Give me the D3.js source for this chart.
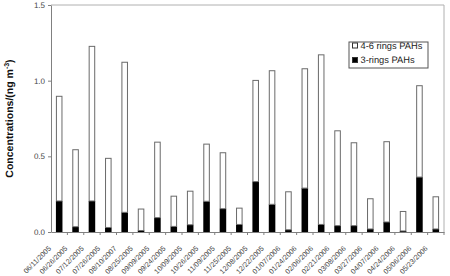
<!DOCTYPE html>
<html>
<head>
<meta charset="utf-8">
<script src="https://cdn.jsdelivr.net/npm/d3@7"></script>
<style>
  body { margin: 0; background: #fff; }
  svg { display: block; font-family: Arial, "Liberation Sans", sans-serif; }
  text { text-rendering: geometricPrecision; }
</style>
</head>
<body>
<svg id="chart" width="450" height="276"></svg>
<script>
// даты отбора проб
const dates = ["06/11/2005", "06/26/2005", "07/12/2005", "07/26/2005", "08/10/2007", "08/25/2005",
  "09/09/2005", "09/24/2005", "10/09/2005", "10/26/2005", "11/09/2005", "11/25/2005",
  "12/08/2005", "12/22/2005", "01/07/2006", "01/24/2006", "02/06/2006", "02/21/2006",
  "03/08/2006", "03/27/2006", "04/07/2006", "04/24/2006", "05/06/2006", "05/23/2006"];

// 3-ring PAHs (нижняя, чёрная часть)
const rings3 = [0.205, 0.035, 0.205, 0.03, 0.13, 0.01, 0.095, 0.037, 0.048, 0.203, 0.154, 0.05,
  0.333, 0.183, 0.015, 0.29, 0.05, 0.042, 0.042, 0.02, 0.066, 0.007, 0.363, 0.02];

// 4-6 ring PAHs (верхняя, белая часть)
const rings46 = [0.695, 0.512, 1.025, 0.46, 0.995, 0.145, 0.502, 0.203, 0.225, 0.381, 0.373, 0.111,
  0.672, 0.886, 0.254, 0.792, 1.124, 0.63, 0.551, 0.203, 0.534, 0.132, 0.607, 0.216];

const yTicks = [0, 0.5, 1.0, 1.5];

const area = { left: 51, right: 444, top: 5, bottom: 232 };

const svg = d3.select("#chart");

const data = dates.map((d, i) => ({ date: d, r3: rings3[i], r46: rings46[i] }));

const x = d3.scaleBand()
  .domain(dates)
  .range([area.left, area.right])
  .paddingInner(0.6)
  .paddingOuter(0.3);

const y = d3.scaleLinear()
  .domain([0, 1.5])
  .range([area.bottom, area.top]);

const step = x.step();

// рамка области построения (верх и право)
svg.append("path")
  .attr("d", `M${area.left},${area.top}H${area.right}V${area.bottom}`)
  .attr("fill", "none")
  .attr("stroke", "#b0b0b0")
  .attr("stroke-width", 1);

// столбцы: чёрная часть
svg.selectAll(".bar-r3")
  .data(data)
  .enter()
  .append("rect")
  .attr("class", "bar-r3")
  .attr("x", d => x(d.date))
  .attr("width", x.bandwidth())
  .attr("y", d => y(d.r3))
  .attr("height", d => y(0) - y(d.r3))
  .attr("fill", "#000");

// белая часть
svg.selectAll(".bar-r46")
  .data(data)
  .enter()
  .append("rect")
  .attr("class", "bar-r46")
  .attr("x", d => x(d.date) + 0.5)
  .attr("width", x.bandwidth() - 1)
  .attr("y", d => y(d.r3 + d.r46) + 0.5)
  .attr("height", d => y(d.r3) - y(d.r3 + d.r46) - 0.5)
  .attr("fill", "#fff")
  .attr("stroke", "#6a6a6a")
  .attr("stroke-width", 1);

// ось Y
const gY = svg.append("g")
  .attr("transform", `translate(${area.left},0)`)
  .call(d3.axisLeft(y).tickValues(yTicks).tickFormat(d3.format(".1f")).tickSize(3).tickSizeOuter(0));
gY.select(".domain").attr("stroke", "#808080");
gY.selectAll(".tick line").attr("stroke", "#808080");
gY.selectAll(".tick text")
  .attr("fill", "#444")
  .attr("font-size", "8px")
  .attr("x", -6);

// ось X
const gX = svg.append("g")
  .attr("transform", `translate(0,${area.bottom})`)
  .call(d3.axisBottom(x).tickSize(3).tickSizeOuter(0));
gX.select(".domain").attr("stroke", "#808080");
gX.selectAll(".tick line")
  .attr("stroke", "#808080")
  .attr("x1", step / 2)
  .attr("x2", step / 2);
gX.selectAll(".tick text")
  .attr("fill", "#444")
  .attr("font-size", "7.2px")
  .attr("text-anchor", "end")
  .attr("dy", 0)
  .attr("y", 0)
  .attr("transform", `translate(${-step / 2 + 0.5},17) rotate(-45)`);

// подпись оси Y
svg.append("text")
  .attr("transform", `translate(13,${(area.top + area.bottom) / 2}) rotate(-90)`)
  .attr("text-anchor", "middle")
  .attr("font-size", "10.5px")
  .attr("font-weight", "bold")
  .attr("fill", "#111")
  .text("Concentrations/(ng m")
  .append("tspan")
  .attr("dy", -4)
  .attr("font-size", "7px")
  .text("-3")
  .append("tspan")
  .attr("dy", 4)
  .attr("font-size", "10.5px")
  .text(")");

// легенда
const legend = svg.append("g").attr("transform", "translate(349,42)");
legend.append("rect")
  .attr("width", 79)
  .attr("height", 26)
  .attr("fill", "#fff")
  .attr("stroke", "#555");

const legendItems = [
  { label: "4-6 rings PAHs", fill: "#fff" },
  { label: "3-rings PAHs", fill: "#000" }
];

legendItems.forEach((item, i) => {
  const row = legend.append("g").attr("transform", `translate(3,${0.5 + i * 14.5})`);
  row.append("rect")
    .attr("x", 0.5)
    .attr("y", 0.5)
    .attr("width", 5)
    .attr("height", 5)
    .attr("fill", item.fill)
    .attr("stroke", "#333");
  row.append("text")
    .attr("x", 8.5)
    .attr("y", 6)
    .attr("font-size", "9.3px")
    .attr("fill", "#222")
    .text(item.label);
});
</script>
</body>
</html>
